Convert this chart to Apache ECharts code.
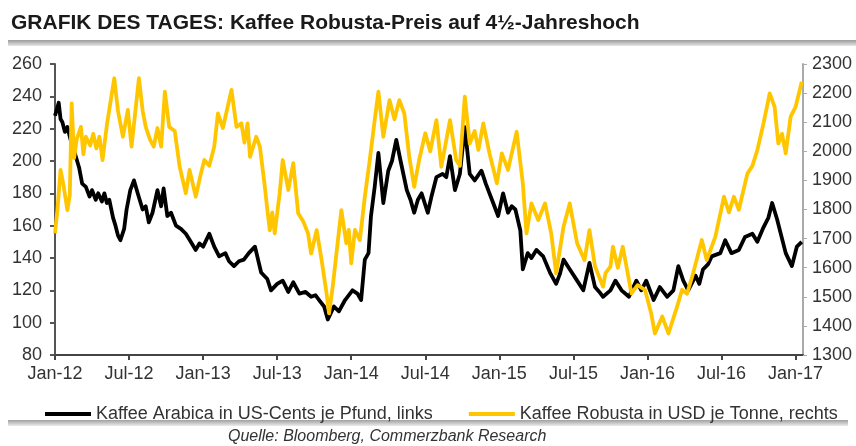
<!DOCTYPE html>
<html>
<head>
<meta charset="utf-8">
<script src="https://cdn.jsdelivr.net/npm/echarts@6/dist/echarts.min.js"></script>
<style>
  html, body { margin: 0; padding: 0; background: #fff; }
  #chart { width: 856px; height: 446px; }
</style>
</head>
<body>
<div id="chart"></div>
<script>
  // x-Achse: Monate seit Jan-12
  var xLabels = ['Jan-12', 'Jul-12', 'Jan-13', 'Jul-13', 'Jan-14', 'Jul-14', 'Jan-15', 'Jul-15', 'Jan-16', 'Jul-16', 'Jan-17'];
  var xTickMonths = [0, 6, 12, 18, 24, 30, 36, 42, 48, 54, 60];

  // Kaffee Arabica (US-Cents je Pfund, links)
  var arabicaMonths = [
    0, 0.15, 0.3, 0.45, 0.6, 0.8, 1.0, 1.3, 1.6, 1.95,
    2.2, 2.5, 2.8, 3.0, 3.3, 3.5, 3.8, 4.0, 4.2, 4.4,
    4.7, 4.9, 5.1, 5.3, 5.6, 5.8, 6.1, 6.4, 6.7, 7.1,
    7.35, 7.6, 7.9, 8.3, 8.6, 8.8, 9.1, 9.4, 9.8, 10.2,
    10.6, 11.0, 11.4, 11.7, 12.0, 12.5, 12.9, 13.3, 13.8, 14.1,
    14.5, 14.9, 15.3, 15.7, 16.2, 16.7, 17.2, 17.5, 18.0, 18.45,
    18.9, 19.3, 19.8, 20.3, 20.75, 21.1, 21.4, 21.8, 22.1, 22.6,
    23.0, 23.5, 24.1, 24.5, 24.8, 25.1, 25.4, 25.6, 25.9, 26.2,
    26.6, 27.0, 27.3, 27.65, 28.0, 28.5, 28.8, 29.1, 29.4, 29.7,
    30.2, 30.5, 30.9, 31.4, 31.7, 32.0, 32.4, 32.8, 33.2, 33.6,
    34.0, 34.55, 34.9, 35.2, 35.5, 35.9, 36.3, 36.7, 37.0, 37.3,
    37.7, 37.9, 38.3, 38.6, 39.0, 39.55, 40.1, 40.6, 40.9, 41.2,
    41.7, 42.3, 42.8, 43.3, 43.75, 44.1, 44.4, 45.0, 45.4, 45.9,
    46.5, 47.1, 47.5, 47.9, 48.5, 49.0, 49.6, 50.1, 50.5, 50.9,
    51.3, 51.9, 52.2, 52.5, 52.9, 53.2, 53.9, 54.3, 54.8, 55.4,
    55.9, 56.5, 56.9, 57.4, 57.8, 58.1, 58.5, 58.9, 59.2, 59.7,
    60.1, 60.5
  ];
  var arabicaValues = [
    228, 232, 236, 226, 224, 218, 221, 212, 205, 196,
    186, 184, 178, 182, 176, 180, 175, 180, 174, 176,
    165, 160, 154, 151, 158, 170, 182, 188, 180, 170,
    172, 162, 168, 182, 172, 183, 166, 168, 160, 158,
    155, 150, 145, 149, 147, 155, 147, 141, 143, 138,
    135, 138, 139, 143, 147, 131, 127, 120, 124, 126,
    119, 125, 118, 119, 116, 117, 114, 110, 102, 110,
    107, 114, 120, 118, 114, 139, 143, 166, 184, 205,
    174, 194, 200, 213, 200, 182, 176, 168, 176, 180,
    168, 178, 190, 192, 190, 203, 182, 192, 221, 192,
    188, 194, 186, 180, 174, 166, 180, 168, 172, 170,
    157, 133, 143, 140, 145, 141, 131, 124, 130, 139,
    133, 126, 120, 137, 122, 119, 116, 120, 126, 120,
    116, 126, 120, 126, 114, 122, 116, 120, 135, 126,
    120, 129, 124, 133, 136, 141, 143, 151, 143, 145,
    153, 155, 150, 159, 165, 174, 164, 152, 143, 135,
    147, 150
  ];

  // Kaffee Robusta (USD je Tonne, rechts)
  var robustaMonths = [
    0.0, 0.2, 0.45, 0.7, 1.0, 1.2, 1.35, 1.55, 1.75, 2.1,
    2.3, 2.5, 2.85, 3.1, 3.35, 3.6, 3.85, 4.2, 4.8, 5.1,
    5.5, 5.9, 6.2, 6.8, 7.1, 7.35, 7.7, 8.0, 8.3, 8.6,
    8.9, 9.25, 9.7, 10.1, 10.6, 10.9, 11.4, 11.8, 12.1, 12.5,
    12.9, 13.2, 13.6, 14.3, 14.7, 15.1, 15.35, 15.6, 15.8, 16.3,
    16.6, 17.0, 17.2, 17.4, 17.6, 17.8, 18.2, 18.45, 18.9, 19.3,
    19.7, 20.1, 20.5, 20.75, 21.2, 21.6, 22.0, 22.2, 22.5, 22.8,
    23.2, 23.6, 23.8, 24.0, 24.3, 24.7, 25.1, 25.5, 25.9, 26.2,
    26.6, 27.1, 27.5, 27.9, 28.3, 28.7, 29.1, 29.5, 30.0, 30.4,
    30.9, 31.3, 32.0, 32.5, 32.8, 33.2, 33.6, 34.0, 34.3, 34.7,
    35.2, 35.8, 36.2, 36.7, 37.4, 37.9, 38.2, 38.6, 39.15, 39.7,
    40.2, 40.6, 41.2, 41.7, 42.3, 42.9, 43.3, 43.75, 44.4, 44.6,
    45.0, 45.2, 45.6, 46.0, 46.7, 47.2, 47.8, 48.3, 48.6, 49.2,
    49.7, 50.4, 50.8, 51.2, 51.7, 52.4, 52.8, 53.5, 54.2, 54.6,
    55.0, 55.4, 56.1, 56.5, 56.9, 57.4, 57.9, 58.3, 58.6, 58.9,
    59.2, 59.6, 60.0, 60.5
  ];
  var robustaValues = [
    1718, 1800, 1936, 1880, 1798, 1850, 2165, 1977, 2040, 2084,
    1990, 2050, 2020, 2060, 2010, 2050, 1970, 2090, 2251, 2140,
    2050, 2142, 2016, 2251, 2140, 2084, 2040, 2016, 2080, 2016,
    2205, 2084, 2070, 1947, 1856, 1936, 1844, 1920, 1970, 1950,
    2016, 2130, 2080, 2211, 2084, 2096, 2030, 2096, 1981, 2050,
    2016, 1878, 1800, 1729, 1790, 1718, 1856, 1970, 1867, 1959,
    1787, 1760, 1718, 1649, 1729, 1626, 1512, 1443, 1535, 1649,
    1798, 1684, 1730, 1615, 1730, 1695, 1844, 1970, 2107, 2205,
    2050, 2176, 2110, 2176, 2130, 1981, 1878, 1970, 2062, 2000,
    2107, 1947, 2107, 1970, 1950, 2188, 2027, 2070, 2005, 2096,
    1993, 1890, 1993, 1936, 2067, 1890, 1718, 1821, 1764, 1821,
    1718, 1581, 1741, 1821, 1684, 1626, 1729, 1604, 1535, 1581,
    1604, 1672, 1600, 1672, 1512, 1540, 1524, 1443, 1374, 1432,
    1374, 1466, 1524, 1510, 1581, 1695, 1626, 1707, 1844, 1790,
    1844, 1799, 1924, 1950, 2004, 2096, 2199, 2153, 2027, 2060,
    1993, 2119, 2153, 2239
  ];

  function pairs(xs, ys) {
    var out = [];
    for (var i = 0; i < xs.length; i++) {
      out.push([xs[i], ys[i]]);
    }
    return out;
  }

  var font = '"Liberation Sans", Arial, sans-serif';
  var myChart = echarts.init(document.getElementById('chart'));
  myChart.setOption({
    animation: false,
    backgroundColor: '#fff',
    title: {
      text: 'GRAFIK DES TAGES: Kaffee Robusta-Preis auf 4½-Jahreshoch',
      left: 6,
      top: 8,
      textStyle: { fontFamily: font, fontSize: 21, fontWeight: 'bold', color: '#1a1a1a' }
    },
    graphic: [
      {
        type: 'rect',
        shape: { x: 8, y: 40, width: 848, height: 6 },
        style: {
          fill: new echarts.graphic.LinearGradient(0, 0, 0, 1, [
            { offset: 0, color: '#9a9a9a' },
            { offset: 1, color: '#e6e6e6' }
          ])
        }
      },
      {
        type: 'rect',
        shape: { x: 8, y: 420, width: 840, height: 6 },
        style: {
          fill: new echarts.graphic.LinearGradient(0, 0, 0, 1, [
            { offset: 0, color: '#a0a0a0' },
            { offset: 1, color: '#ececec' }
          ])
        }
      },
      {
        type: 'text',
        left: 228,
        top: 429,
        style: {
          text: 'Quelle: Bloomberg, Commerzbank Research',
          font: 'italic 16px ' + font,
          fill: '#333'
        }
      }
    ],
    legend: {
      left: 40,
      top: 400,
      itemWidth: 46,
      itemHeight: 4,
      itemGap: 36,
      icon: 'rect',
      textStyle: { fontFamily: font, fontSize: 18, color: '#333' },
      data: ['Kaffee Arabica in US-Cents je Pfund, links', 'Kaffee Robusta in USD je Tonne, rechts']
    },
    grid: { left: 55, right: 53, top: 64, bottom: 91 },
    xAxis: {
      type: 'value',
      min: 0,
      max: 60.6,
      splitLine: { show: false },
      axisLine: { lineStyle: { color: '#444', width: 2 } },
      axisTick: { customValues: xTickMonths, length: 5, lineStyle: { color: '#444', width: 2 } },
      axisLabel: {
        customValues: xTickMonths,
        margin: 10,
        fontFamily: font,
        fontSize: 18,
        color: '#333',
        formatter: function (v) {
          return xLabels[Math.round(v / 6)] || '';
        }
      }
    },
    yAxis: [
      {
        type: 'value',
        min: 80,
        max: 260,
        interval: 20,
        splitLine: { show: false },
        axisLine: { show: true, lineStyle: { color: '#555', width: 2 } },
        axisTick: { show: true, length: 5, lineStyle: { color: '#555', width: 2 } },
        axisLabel: { margin: 13, fontFamily: font, fontSize: 18, color: '#333' }
      },
      {
        type: 'value',
        min: 1300,
        max: 2300,
        interval: 100,
        position: 'right',
        splitLine: { show: false },
        axisLine: { show: true, lineStyle: { color: '#aaa', width: 2 } },
        axisTick: { show: true, length: 4, lineStyle: { color: '#aaa', width: 1 } },
        axisLabel: {
          margin: 9,
          fontFamily: font,
          fontSize: 18,
          color: '#333',
          formatter: function (v) { return String(v); }
        }
      }
    ],
    series: [
      {
        name: 'Kaffee Arabica in US-Cents je Pfund, links',
        type: 'line',
        yAxisIndex: 0,
        showSymbol: false,
        color: '#000',
        lineStyle: { width: 3.8, color: '#000', join: 'round' },
        data: pairs(arabicaMonths, arabicaValues)
      },
      {
        name: 'Kaffee Robusta in USD je Tonne, rechts',
        type: 'line',
        yAxisIndex: 1,
        showSymbol: false,
        color: '#ffc600',
        lineStyle: { width: 3.8, color: '#ffc600', join: 'round' },
        data: pairs(robustaMonths, robustaValues)
      }
    ]
  });
</script>
</body>
</html>
